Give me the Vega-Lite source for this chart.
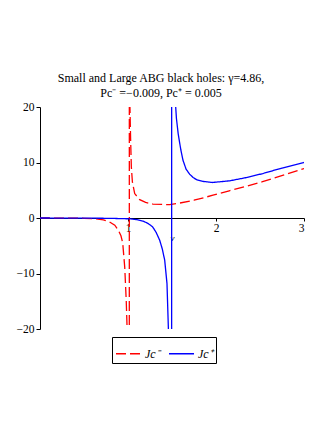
{
  "$schema": "https://vega.github.io/schema/vega-lite/v6.json",
  "autosize": "none",
  "width": 264,
  "height": 222,
  "padding": {"left": 40, "top": 107, "right": 28, "bottom": 101},
  "background": "white",
  "title": {
    "text": ["Small and Large ABG black holes: γ=4.86,", "Pc⁻ =−0.009, Pc⁺ = 0.005"],
    "font": "Liberation Serif",
    "fontSize": 12,
    "fontWeight": "normal",
    "color": "#000000",
    "lineHeight": 15,
    "anchor": "middle",
    "dx": -11,
    "offset": 1
  },
  "config": {
    "font": "Liberation Serif",
    "view": {"stroke": null},
    "axis": {
      "grid": false,
      "domainColor": "#000000",
      "tickColor": "#000000",
      "labelColor": "#000000",
      "labelFont": "Liberation Serif",
      "labelFontSize": 11.5,
      "titleFont": "Liberation Serif",
      "domainWidth": 1
    },
    "legend": {
      "labelFont": "Liberation Serif",
      "labelFontSize": 12,
      "labelFontStyle": "italic",
      "labelColor": "#000000"
    }
  },
  "data": {
    "values": [
      {"s": "Jc⁻", "x": 0.0, "y": 0.0},
      {"s": "Jc⁻", "x": 0.3, "y": -0.01},
      {"s": "Jc⁻", "x": 0.5, "y": -0.05},
      {"s": "Jc⁻", "x": 0.64, "y": -0.15},
      {"s": "Jc⁻", "x": 0.72, "y": -0.35},
      {"s": "Jc⁻", "x": 0.79, "y": -0.7},
      {"s": "Jc⁻", "x": 0.85, "y": -1.3},
      {"s": "Jc⁻", "x": 0.89, "y": -2.2},
      {"s": "Jc⁻", "x": 0.92, "y": -3.2},
      {"s": "Jc⁻", "x": 0.94, "y": -4.5},
      {"s": "Jc⁻", "x": 0.963, "y": -8.9},
      {"s": "Jc⁻", "x": 0.98, "y": -14.9},
      {"s": "Jc⁻", "x": 0.99, "y": -20},
      {"s": "Jc⁻", "x": 1.014, "y": -200},
      {"s": "Jc⁻", "x": 1.016, "y": 200},
      {"s": "Jc⁻", "x": 1.022, "y": 20},
      {"s": "Jc⁻", "x": 1.03, "y": 14},
      {"s": "Jc⁻", "x": 1.038, "y": 9.2},
      {"s": "Jc⁻", "x": 1.05, "y": 6.5},
      {"s": "Jc⁻", "x": 1.076, "y": 4.4},
      {"s": "Jc⁻", "x": 1.133, "y": 3.3},
      {"s": "Jc⁻", "x": 1.2, "y": 2.8},
      {"s": "Jc⁻", "x": 1.284, "y": 2.5},
      {"s": "Jc⁻", "x": 1.474, "y": 2.4},
      {"s": "Jc⁻", "x": 1.59, "y": 2.7},
      {"s": "Jc⁻", "x": 1.75, "y": 3.2},
      {"s": "Jc⁻", "x": 1.966, "y": 4.1},
      {"s": "Jc⁻", "x": 2.15, "y": 4.9},
      {"s": "Jc⁻", "x": 2.345, "y": 5.7},
      {"s": "Jc⁻", "x": 2.52, "y": 6.5},
      {"s": "Jc⁻", "x": 2.72, "y": 7.5},
      {"s": "Jc⁻", "x": 3.0, "y": 8.9},
      {"s": "Jc⁺", "x": 0.0, "y": 0.0},
      {"s": "Jc⁺", "x": 0.5, "y": -0.02},
      {"s": "Jc⁺", "x": 0.8, "y": -0.06},
      {"s": "Jc⁺", "x": 1.02, "y": -0.15},
      {"s": "Jc⁺", "x": 1.1, "y": -0.3},
      {"s": "Jc⁺", "x": 1.17, "y": -0.55},
      {"s": "Jc⁺", "x": 1.23, "y": -1.0},
      {"s": "Jc⁺", "x": 1.28, "y": -1.6},
      {"s": "Jc⁺", "x": 1.32, "y": -2.6},
      {"s": "Jc⁺", "x": 1.36, "y": -4.0},
      {"s": "Jc⁺", "x": 1.39, "y": -5.6},
      {"s": "Jc⁺", "x": 1.417, "y": -7.6},
      {"s": "Jc⁺", "x": 1.443, "y": -11.8},
      {"s": "Jc⁺", "x": 1.459, "y": -20},
      {"s": "Jc⁺", "x": 1.495, "y": -200},
      {"s": "Jc⁺", "x": 1.497, "y": 200},
      {"s": "Jc⁺", "x": 1.542, "y": 20},
      {"s": "Jc⁺", "x": 1.55, "y": 18},
      {"s": "Jc⁺", "x": 1.57, "y": 15.2},
      {"s": "Jc⁺", "x": 1.6, "y": 12.3},
      {"s": "Jc⁺", "x": 1.625, "y": 10.4},
      {"s": "Jc⁺", "x": 1.66, "y": 8.8},
      {"s": "Jc⁺", "x": 1.7, "y": 7.9},
      {"s": "Jc⁺", "x": 1.74, "y": 7.3},
      {"s": "Jc⁺", "x": 1.78, "y": 6.9},
      {"s": "Jc⁺", "x": 1.85, "y": 6.6},
      {"s": "Jc⁺", "x": 1.96, "y": 6.4},
      {"s": "Jc⁺", "x": 2.156, "y": 6.7},
      {"s": "Jc⁺", "x": 2.35, "y": 7.3},
      {"s": "Jc⁺", "x": 2.53, "y": 8.0},
      {"s": "Jc⁺", "x": 2.75, "y": 9.0},
      {"s": "Jc⁺", "x": 3.0, "y": 10.0}
    ]
  },
  "mark": {"type": "line", "clip": true, "strokeWidth": 1.3},
  "encoding": {
    "x": {
      "field": "x",
      "type": "quantitative",
      "scale": {"domain": [0, 3], "nice": false, "zero": false},
      "axis": {
        "orient": "bottom",
        "offset": -111,
        "values": [1, 2, 3],
        "tickSize": 3,
        "labelPadding": 1,
        "labelFont": "Liberation Serif",
        "labelFontSize": 11.5,
        "title": "v",
        "titleFont": "Liberation Serif",
        "titleFontSize": 9,
        "titleFontStyle": "italic",
        "titleFontWeight": "normal",
        "titlePadding": 0,
        "titleColor": "#000000"
      }
    },
    "y": {
      "field": "y",
      "type": "quantitative",
      "scale": {"domain": [-20, 20], "nice": false},
      "axis": {
        "values": [-20, -10, 0, 10, 20],
        "tickSize": 4,
        "labelPadding": 2,
        "labelFont": "Liberation Serif",
        "labelFontSize": 11.5,
        "title": null
      }
    },
    "color": {
      "field": "s",
      "type": "nominal",
      "scale": {"domain": ["Jc⁻", "Jc⁺"], "range": ["#ff0000", "#0000ff"]},
      "legend": {
        "title": null,
        "orient": "none",
        "legendX": 72,
        "legendY": 230,
        "direction": "horizontal",
        "strokeColor": "#000000",
        "padding": 3,
        "symbolType": "stroke",
        "symbolSize": 625,
        "symbolStrokeWidth": 1.3,
        "columnPadding": 6,
        "labelOffset": 3,
        "labelFont": "Liberation Serif"
      }
    },
    "strokeDash": {
      "field": "s",
      "type": "nominal",
      "scale": {"domain": ["Jc⁻", "Jc⁺"], "range": [[10, 4], [1, 0]]},
      "legend": {
        "title": null,
        "orient": "none",
        "legendX": 72,
        "legendY": 230,
        "direction": "horizontal",
        "strokeColor": "#000000",
        "padding": 3,
        "symbolType": "stroke",
        "symbolSize": 625,
        "symbolStrokeWidth": 1.3,
        "columnPadding": 6,
        "labelOffset": 3,
        "labelFont": "Liberation Serif"
      }
    }
  }
}
